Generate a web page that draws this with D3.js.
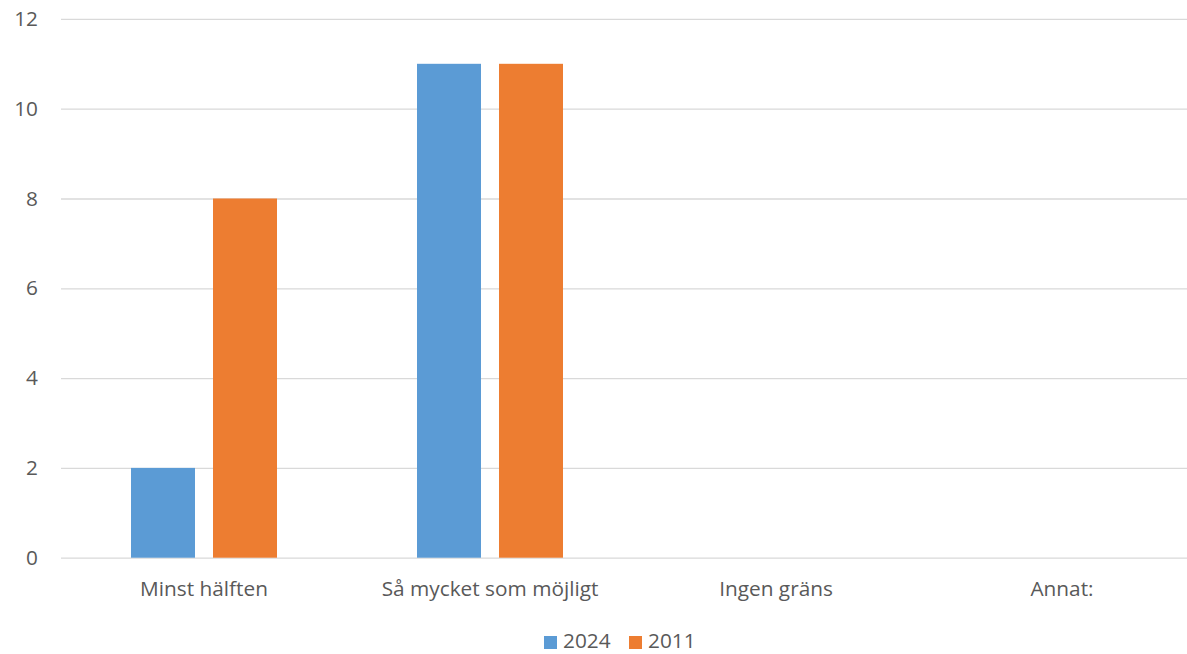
<!DOCTYPE html>
<html><head><meta charset="utf-8">
<script src="https://cdn.jsdelivr.net/npm/d3@7"></script>
<style>body{margin:0;background:#fff}svg{display:block}</style>
</head><body>
<svg id="c" width="1187" height="654"></svg>
<script>
const categories = ["Minst hälften", "Så mycket som möjligt", "Ingen gräns", "Annat:"];
const seriesNames = ["2024", "2011"];
const values2024 = [2, 11, 0, 0];
const values2011 = [8, 11, 0, 0];
const yTicks = [0, 2, 4, 6, 8, 10, 12];
const colors = ["#5B9BD5", "#ED7D31"];

const seriesValues = [values2024, values2011];
const svg = d3.select("#c");
const font = "'Open Sans', sans-serif";
const textColor = "#595959";
const fs = "20.8px";

const x0 = d3.scaleBand().domain(categories).range([61, 1205]).padding(0);
const x1 = d3.scaleBand().domain(seriesNames).range([70, 216]).paddingInner(18/82).paddingOuter(0);
const y = d3.scaleLinear().domain([0, 12]).range([557.7, 18.9]);

// gridlines
const yAxis = d3.axisLeft(y).tickValues(yTicks).tickSize(-(1205 - 61)).tickPadding(23).tickFormat(d3.format("d"));
const gy = svg.append("g").attr("transform", "translate(61,0)").call(yAxis);
gy.select(".domain").remove();
gy.selectAll(".tick line").attr("stroke", "#d9d9d9").attr("stroke-width", 1.3);
gy.selectAll(".tick text").attr("fill", textColor).style("font-family", font).style("font-size", fs);

// bars
seriesNames.forEach((s, si) => {
  svg.append("g").selectAll("rect").data(categories.map((c, i) => ({c, v: seriesValues[si][i]})))
    .join("rect")
    .attr("x", d => x0(d.c) + x1(s))
    .attr("width", x1.bandwidth())
    .attr("y", d => y(d.v))
    .attr("height", d => y(0) - y(d.v))
    .attr("fill", colors[si]);
});

// x labels
const xAxis = d3.axisBottom(x0).tickSize(0).tickPadding(24);
const gx = svg.append("g").attr("transform", `translate(0,${y(0)})`).call(xAxis);
gx.select(".domain").remove();
gx.selectAll(".tick text").attr("fill", textColor).style("font-family", font).style("font-size", fs);

// legend
const legendX = [544, 629];
const lg = svg.append("g");
seriesNames.forEach((s, i) => {
  lg.append("rect").attr("x", legendX[i]).attr("y", 636).attr("width", 13).attr("height", 13).attr("fill", colors[i]);
  lg.append("text").attr("x", legendX[i] + 19).attr("y", 648).text(s)
    .attr("fill", textColor).style("font-family", font).style("font-size", fs);
});
</script>
</body></html>
